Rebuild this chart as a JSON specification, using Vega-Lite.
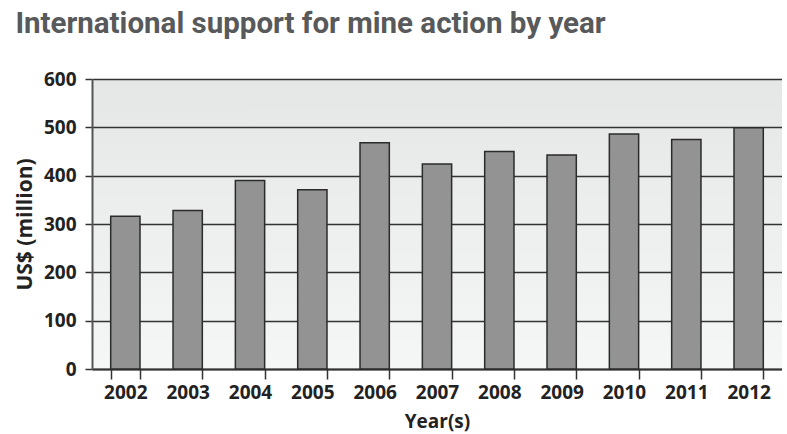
{
  "$schema": "https://vega.github.io/schema/vega-lite/v6.json",
  "width": 690,
  "height": 290,
  "autosize": {"type": "pad"},
  "padding": {"left": 14, "top": 8, "right": 0, "bottom": 3},
  "background": "white",
  "title": {
    "text": "International support for mine action by year",
    "anchor": "start",
    "frame": "bounds",
    "font": "Roboto",
    "fontSize": 29.5,
    "fontWeight": "bold",
    "color": "#58595b",
    "offset": 31,
    "dx": 1
  },
  "data": {
    "values": [
      {"year": "2002", "value": 316},
      {"year": "2003", "value": 328},
      {"year": "2004", "value": 390},
      {"year": "2005", "value": 371},
      {"year": "2006", "value": 468},
      {"year": "2007", "value": 424},
      {"year": "2008", "value": 450},
      {"year": "2009", "value": 443},
      {"year": "2010", "value": 486},
      {"year": "2011", "value": 475},
      {"year": "2012", "value": 499}
    ]
  },
  "mark": {"type": "bar", "fill": "#939393", "stroke": "#2b2b2b", "strokeWidth": 1.5},
  "encoding": {
    "x": {
      "field": "year",
      "type": "ordinal",
      "scale": {"paddingInner": 0.53, "paddingOuter": 0.3},
      "axis": {
        "title": "Year(s)",
        "labelAngle": 0,
        "tickBand": "extent",
        "domainColor": "#333333",
        "domainWidth": 2,
        "tickColor": "#333333",
        "tickWidth": 1.5,
        "tickSize": 10,
        "labelFont": "Open Sans",
        "labelFontWeight": "bold",
        "labelFontSize": 19,
        "labelColor": "#222222",
        "labelPadding": 4,
        "titleFont": "Open Sans",
        "titleFontWeight": "bold",
        "titleFontSize": 19,
        "titleColor": "#222222",
        "titlePadding": 10
      }
    },
    "y": {
      "field": "value",
      "type": "quantitative",
      "scale": {"domain": [0, 600]},
      "axis": {
        "title": "US$ (million)",
        "values": [0, 100, 200, 300, 400, 500, 600],
        "grid": true,
        "gridColor": "#333333",
        "gridWidth": 1.5,
        "domainColor": "#555555",
        "domainWidth": 2,
        "tickColor": "#333333",
        "tickWidth": 1.5,
        "tickSize": 7,
        "labelFont": "Open Sans",
        "labelFontWeight": "bold",
        "labelFontSize": 19,
        "labelColor": "#222222",
        "labelPadding": 9,
        "titleFont": "Open Sans",
        "titleFontWeight": "bold",
        "titleFontSize": 21,
        "titleColor": "#222222",
        "titlePadding": 8
      }
    }
  },
  "config": {
    "view": {
      "stroke": null,
      "fill": {
        "gradient": "linear",
        "x1": 0, "y1": 0, "x2": 0, "y2": 1,
        "stops": [
          {"offset": 0, "color": "#e5e6e6"},
          {"offset": 1, "color": "#f5f6f6"}
        ]
      }
    }
  }
}
